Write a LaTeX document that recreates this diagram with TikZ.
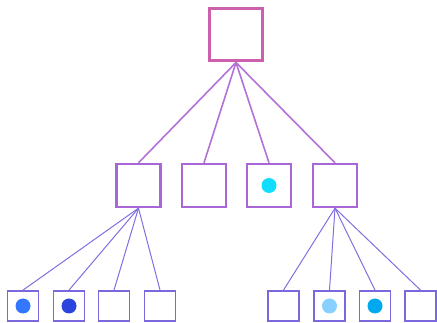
\documentclass[tikz,border=0pt]{standalone}
\begin{document}
\begin{tikzpicture}[x=1pt,y=-1pt,
  topbox/.style={draw=topc, line width=3pt, minimum width=53pt, minimum height=52pt, inner sep=0pt},
  midbox/.style={draw=midc, line width=2.4pt, minimum width=44pt, minimum height=43pt, inner sep=0pt},
  botbox/.style={draw=botc, line width=1.8pt, minimum width=31pt, minimum height=30pt, inner sep=0pt},
  upline/.style={draw=linec, line width=1.6pt},
  lowline/.style={draw=lowc, line width=1pt},
  dot/.style={circle, fill=#1, minimum size=15pt, inner sep=0pt}]
\definecolor{topc}{HTML}{CC5FAE}
\definecolor{midc}{HTML}{A966D6}
\definecolor{botc}{HTML}{7B68DD}
\definecolor{linec}{HTML}{B272D8}
\definecolor{lowc}{HTML}{7E70E0}
\definecolor{d1}{HTML}{3377FF}
\definecolor{d2}{HTML}{2A44DD}
\definecolor{d3}{HTML}{88D0FF}
\definecolor{d4}{HTML}{00A8F0}
\definecolor{dc}{HTML}{11DDFF}
\useasboundingbox (0,0) rectangle (437,323);
\node[topbox] (t) at (236,35) {};
\node[midbox] (m1) at (138.5,185.5) {};
\node[midbox] (m2) at (204,185.5) {};
\node[midbox] (m3) at (269,185.5) {};
\node[midbox] (m4) at (335,185.5) {};
\node[botbox] (b1) at (23,306) {};
\node[botbox] (b2) at (69,306) {};
\node[botbox] (b3) at (114,306) {};
\node[botbox] (b4) at (160,306) {};
\node[botbox] (b5) at (283.5,306) {};
\node[botbox] (b6) at (329.5,306) {};
\node[botbox] (b7) at (375,306) {};
\node[botbox] (b8) at (420.5,306) {};
\node[dot=dc] (c3) at (m3.center) {};
\node[dot=d1] (e1) at (b1.center) {};
\node[dot=d2] (e2) at (b2.center) {};
\node[dot=d3] (e6) at (b6.center) {};
\node[dot=d4] (e7) at (b7.center) {};
\foreach \m in {m1,m2,m3,m4} \draw[upline] (t.south) -- (\m.north);
\foreach \b in {b1,b2,b3,b4} \draw[lowline] (m1.south) -- (\b.north);
\foreach \b in {b5,b6,b7,b8} \draw[lowline] (m4.south) -- (\b.north);
\end{tikzpicture}
\end{document}
